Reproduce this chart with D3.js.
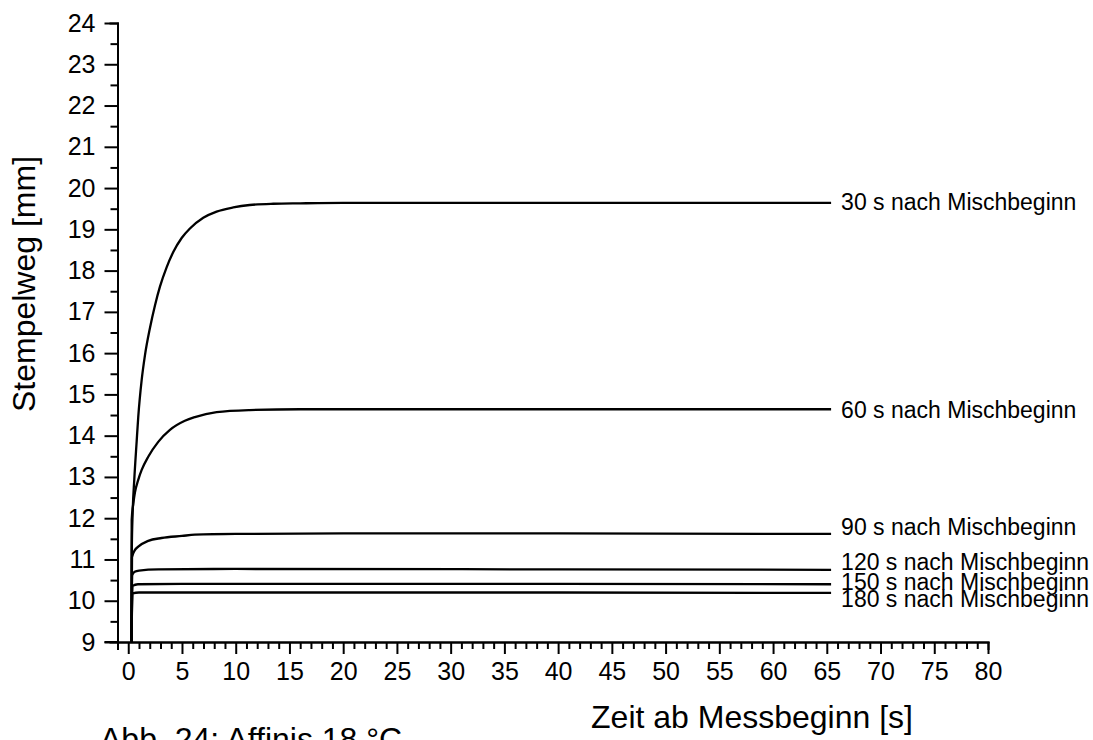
<!DOCTYPE html>
<html><head><meta charset="utf-8">
<script src="https://cdn.jsdelivr.net/npm/d3@7"></script>
<style>body{margin:0;background:#fff}svg{display:block}text{font-family:"Liberation Sans",Arial,Helvetica,sans-serif;fill:#000}</style>
</head><body>
<svg id="c" width="1093" height="740"></svg>
<script>
// ---- data ----
const seriesNames = ["30 s nach Mischbeginn","60 s nach Mischbeginn","90 s nach Mischbeginn","120 s nach Mischbeginn","150 s nach Mischbeginn","180 s nach Mischbeginn"];
const time30 = [0.3,0.33,0.41,0.56,0.78,0.93,1.25,1.55,2.02,2.48,2.95,3.57,4.19,4.97,5.74,6.98,8.22,9.77,11.3,13.5,16,20,30,40,50,60,65.4];
const vals30 = [9.0,11.2,12.13,12.93,13.85,14.45,15.35,15.94,16.61,17.15,17.61,18.08,18.45,18.79,19.02,19.28,19.43,19.53,19.59,19.62,19.63,19.64,19.64,19.64,19.64,19.64,19.64];
const time60 = [0.3,0.32,0.47,0.62,0.93,1.25,1.86,2.79,3.88,5.27,6.2,8.22,11.3,16,25,40,55,65.4];
const vals60 = [9.0,11.96,12.35,12.62,12.93,13.17,13.49,13.85,14.14,14.36,14.45,14.57,14.62,14.64,14.64,14.64,14.64,14.64];
const time90 = [0.3,0.35,0.6,0.93,1.86,3.1,5,6.2,10,20,40,65.4];
const vals90 = [9.0,11.05,11.22,11.31,11.45,11.52,11.57,11.6,11.62,11.63,11.63,11.62];
const time120 = [0.3,0.37,0.6,1.0,2.8,10,40,65.4];
const vals120 = [9.0,10.62,10.7,10.73,10.76,10.77,10.76,10.75];
const time150 = [0.3,0.4,0.9,5,40,65.4];
const vals150 = [9.0,10.36,10.4,10.41,10.41,10.4];
const time180 = [0.3,0.4,1,40,65.4];
const vals180 = [9.0,10.18,10.2,10.2,10.19];
const labelValues = [19.66,14.62,11.79,10.94,10.45,10.04];
const xTicks = d3.range(0,81,5);
const yTicks = d3.range(9,25,1);
const xTitle = "Zeit ab Messbeginn [s]";
const yTitle = "Stempelweg [mm]";
const caption = "Abb. 24: Affinis 18 °C";

const allTimes = [time30,time60,time90,time120,time150,time180];
const allVals = [vals30,vals60,vals90,vals120,vals150,vals180];

// ---- layout ----
const svg = d3.select("#c");
const x = d3.scaleLinear().domain([-1,80]).range([117.5,988]);
const y = d3.scaleLinear().domain([9,24]).range([642,23]);

const axStyle = g => { g.selectAll("path,line").attr("stroke","#000").attr("stroke-width",2);
  g.select(".domain").attr("stroke-linecap","square"); };

// y minor
svg.append("g").attr("transform",`translate(${x(-1)},0)`)
  .call(d3.axisLeft(y).tickValues(d3.range(9.5,24,1)).tickSize(7).tickFormat(""))
  .call(axStyle);
// y major
const gy = svg.append("g").attr("transform",`translate(${x(-1)},0)`)
  .call(d3.axisLeft(y).tickValues(yTicks).tickSize(13).tickSizeOuter(0).tickPadding(9).tickFormat(d3.format("d")))
  .call(axStyle);
gy.selectAll("text").attr("font-size",25).style("font-family",'"Liberation Sans",Arial,sans-serif');

// x minor
svg.append("g").attr("transform",`translate(0,${y(9)})`)
  .call(d3.axisBottom(x).tickValues(d3.range(-1,81,1).filter(v=>v%5!==0)).tickSize(7).tickFormat(""))
  .call(axStyle);
const gx = svg.append("g").attr("transform",`translate(0,${y(9)})`)
  .call(d3.axisBottom(x).tickValues(xTicks).tickSize(12).tickSizeOuter(0).tickPadding(8).tickFormat(d3.format("d")))
  .call(axStyle);
gx.selectAll("text").attr("font-size",25).style("font-family",'"Liberation Sans",Arial,sans-serif');
svg.append("line").attr("x1",x(-1)-13).attr("x2",x(-1)).attr("y1",y(9)).attr("y2",y(9)).attr("stroke","#000").attr("stroke-width",2);

// curves
const line = d3.line().x(d=>x(d[0])).y(d=>y(d[1])).curve(d3.curveMonotoneX);
allTimes.forEach((ts,i)=>{
  const pts = ts.map((t,j)=>[t,allVals[i][j]]);
  svg.append("path").datum(pts).attr("d",line).attr("fill","none").attr("stroke","#000").attr("stroke-width",2.3);
  svg.append("text").attr("x",x(ts[ts.length-1])+10).attr("y",y(labelValues[i])).attr("dy","0.36em")
    .attr("font-size",23).text(seriesNames[i]);
});

// titles
svg.append("text").attr("transform",`translate(35,284) rotate(-90)`).attr("text-anchor","middle")
  .attr("font-size",32).text(yTitle);
svg.append("text").attr("x",752).attr("y",728).attr("text-anchor","middle").attr("font-size",32).text(xTitle);
svg.append("text").attr("x",100).attr("y",750).attr("font-size",32).text(caption);
</script>
</body></html>
